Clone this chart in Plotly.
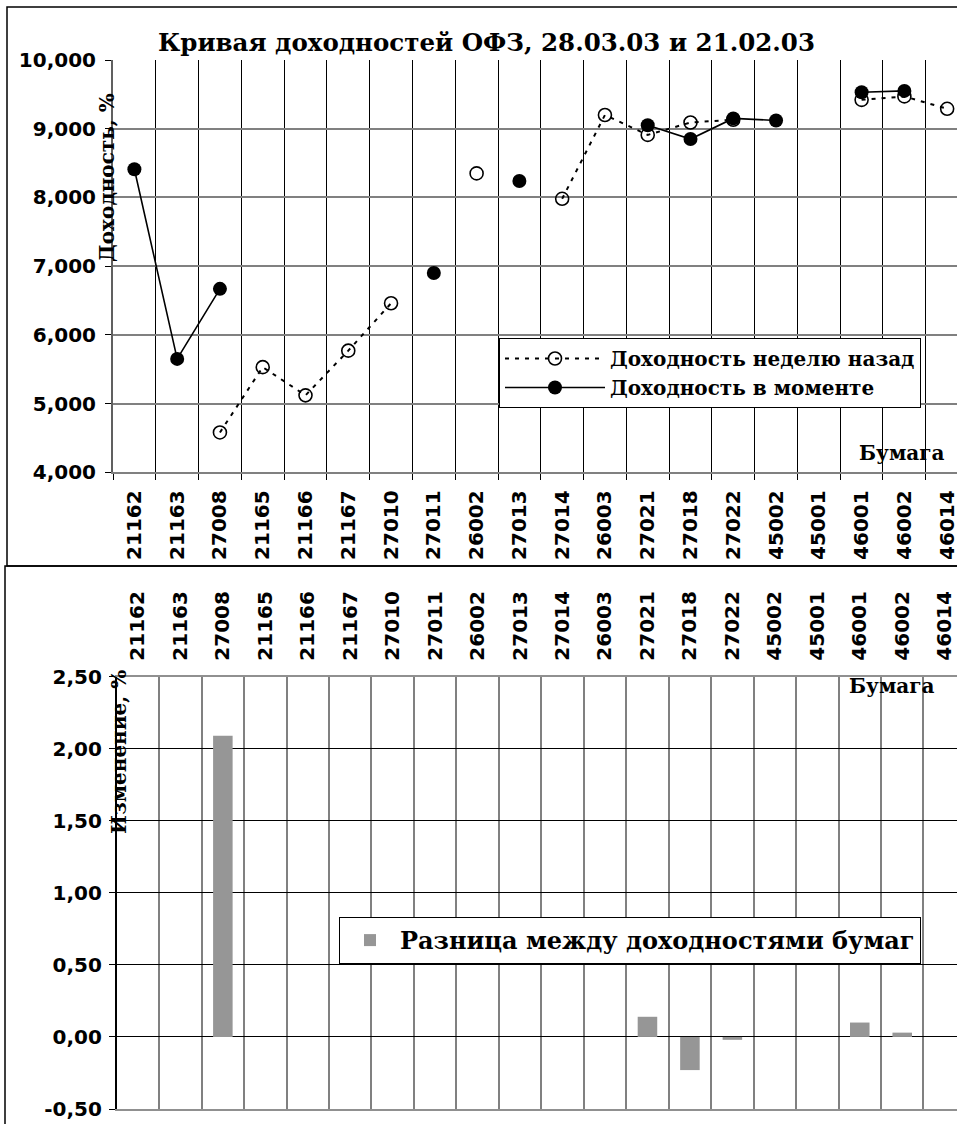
import plotly.graph_objects as go

# ---------------- data ----------------
bonds = ["21162", "21163", "27008", "21165", "21166", "21167", "27010", "27011",
         "26002", "27013", "27014", "26003", "27021", "27018", "27022", "45002",
         "45001", "46001", "46002", "46014"]
yield_week_ago = [None, None, 4.58, 5.53, 5.12, 5.77, 6.46, None,
                  8.35, None, 7.98, 9.20, 8.91, 9.09, 9.13, None,
                  None, 9.42, 9.47, 9.29]
yield_now = [8.41, 5.65, 6.67, None, None, None, None, 6.90,
             None, 8.24, None, None, 9.05, 8.85, 9.15, 9.12,
             None, 9.53, 9.55, None]
yield_diff = [None, None, 2.09, None, None, None, None, None,
              None, None, None, None, 0.14, -0.23, -0.02, None,
              None, 0.10, 0.03, None]

y2_tickvals = [-0.5, 0.0, 0.5, 1.0, 1.5, 2.0, 2.5]
y2_ticklabels = ["-0,50", "0,00", "0,50", "1,00", "1,50", "2,00", "2,50"]

title_text = "Кривая доходностей ОФЗ, 28.03.03 и 21.02.03"
y1_title = "Доходность, %"
y2_title = "Изменение, %"
x_title = "Бумага"
name_prev = "Доходность неделю назад"
name_now = "Доходность в моменте"
name_diff = "Разница между доходностями бумаг"

W, H = 957, 1124
def px(x):
    return x / W
def py(y):
    return 1 - y / H

SANS = dict(family="DejaVu Sans", size=20, color="black", weight=700)
SERIF = "DejaVu Serif"

fig = go.Figure()

fig.add_trace(go.Scatter(
    x=bonds, y=yield_week_ago, name=name_prev, mode="lines+markers",
    line=dict(color="black", width=2, dash="4px,6px"),
    marker=dict(symbol="circle-open", size=13, color="black", line=dict(width=1.6)),
    connectgaps=False, xaxis="x", yaxis="y", legend="legend"))
fig.add_trace(go.Scatter(
    x=bonds, y=yield_now, name=name_now, mode="lines+markers",
    line=dict(color="black", width=1.6),
    marker=dict(symbol="circle", size=14, color="black"),
    connectgaps=False, xaxis="x", yaxis="y", legend="legend"))
fig.add_trace(go.Bar(
    x=bonds, y=yield_diff, name=name_diff, width=0.46,
    marker=dict(color="#969696", line=dict(width=0)),
    xaxis="x2", yaxis="y2", legend="legend2"))

# category boundaries for the tick marks on the zero line of the lower chart
boundaries = [i - 0.5 for i in range(len(bonds) + 1)]

fig.update_layout(
    width=W, height=H,
    margin=dict(l=0, r=0, t=0, b=0, autoexpand=False),
    paper_bgcolor="white", plot_bgcolor="white",
    separators=", ",
    showlegend=True,
    xaxis=dict(
        domain=[px(113), 1], anchor="y", type="category", automargin=False,
        range=[-0.5, 19.23], tickson="boundaries",
        showgrid=True, gridcolor="black", gridwidth=1,
        showline=True, linecolor="#808080", linewidth=2,
        ticks="outside", ticklen=6, tickcolor="black", tickwidth=1,
        tickangle=-90, tickfont=SANS, ticklabelstandoff=8,
        fixedrange=True),
    yaxis=dict(
        domain=[py(472.3), py(60)], anchor="x", automargin=False,
        range=[4, 10], dtick=1, tickformat=".3f",
        showgrid=True, gridcolor="#808080", gridwidth=2,
        showline=True, linecolor="#606060", linewidth=2,
        ticks="outside", ticklen=6, tickcolor="black", tickwidth=1,
        tickfont=SANS, ticklabelstandoff=5, zeroline=False, fixedrange=True),
    xaxis2=dict(
        domain=[px(116.7), 1], anchor="y2", type="category", side="top", automargin=False,
        range=[-0.5, 19.29], tickson="boundaries",
        showgrid=True, gridcolor="#808080", gridwidth=1.5,
        showline=True, linecolor="#909090", linewidth=2, mirror=True,
        ticks="", tickangle=-90, tickfont=SANS, ticklabelstandoff=10,
        fixedrange=True),
    xaxis3=dict(
        overlaying="x2", anchor="free", position=py(1036.3), automargin=False,
        range=[-0.5, 19.29], tickmode="array", tickvals=boundaries,
        showticklabels=False, showgrid=False, zeroline=False, showline=False,
        ticks="outside", ticklen=6, tickcolor="black", tickwidth=1.5,
        fixedrange=True),
    yaxis2=dict(
        domain=[py(1109), py(676.7)], anchor="x2", automargin=False,
        range=[-0.5, 2.5], tickmode="array", tickvals=y2_tickvals, ticktext=y2_ticklabels,
        showgrid=True, gridcolor="black", gridwidth=1,
        showline=True, linecolor="black", linewidth=1.5,
        zeroline=True, zerolinecolor="black", zerolinewidth=1,
        ticks="outside", ticklen=6, tickcolor="black", tickwidth=1,
        tickfont=SANS, ticklabelstandoff=3, fixedrange=True),
    legend=dict(
        x=px(499), y=py(338), xanchor="left", yanchor="top",
        bgcolor="white", bordercolor="black", borderwidth=1,
        font=dict(family=SERIF, size=20, color="black", weight=700),
        itemwidth=100, tracegroupgap=0),
    legend2=dict(
        x=px(339), y=py(917), xanchor="left", yanchor="top",
        bgcolor="white", bordercolor="black", borderwidth=1,
        font=dict(family=SERIF, size=24, color="black", weight=700),
        itemwidth=50),
)

annotations = [
    dict(text="<b>" + title_text + "</b>", x=px(486), y=py(42),
         font=dict(family=SERIF, size=24.5, color="black")),
    dict(text="<b>" + y1_title + "</b>", x=px(107), y=py(178), textangle=-90,
         font=dict(family=SERIF, size=20, color="black")),
    dict(text="<b>" + y2_title + "</b>", x=px(119), y=py(752), textangle=-90,
         font=dict(family=SERIF, size=20, color="black")),
    dict(text="<b>" + x_title + "</b>", x=px(901), y=py(453),
         font=dict(family=SERIF, size=20, color="black")),
    dict(text="<b>" + x_title + "</b>", x=px(891), y=py(686),
         font=dict(family=SERIF, size=20, color="black")),
]
for a in annotations:
    a.update(xref="paper", yref="paper", showarrow=False, xanchor="center", yanchor="middle")
fig.update_layout(annotations=annotations)

fig.update_layout(shapes=[
    dict(type="rect", xref="paper", yref="paper", x0=px(7), y0=py(7), x1=px(975), y1=py(566),
         line=dict(color="black", width=1.5), fillcolor="rgba(0,0,0,0)", layer="below"),
    dict(type="rect", xref="paper", yref="paper", x0=px(5), y0=py(566), x1=px(975), y1=py(1140),
         line=dict(color="black", width=1.5), fillcolor="rgba(0,0,0,0)", layer="below"),
])

fig.write_html("out.html",
               config={"displayModeBar": False},
               post_script="document.body.style.margin='0';document.body.style.overflow='hidden';")
